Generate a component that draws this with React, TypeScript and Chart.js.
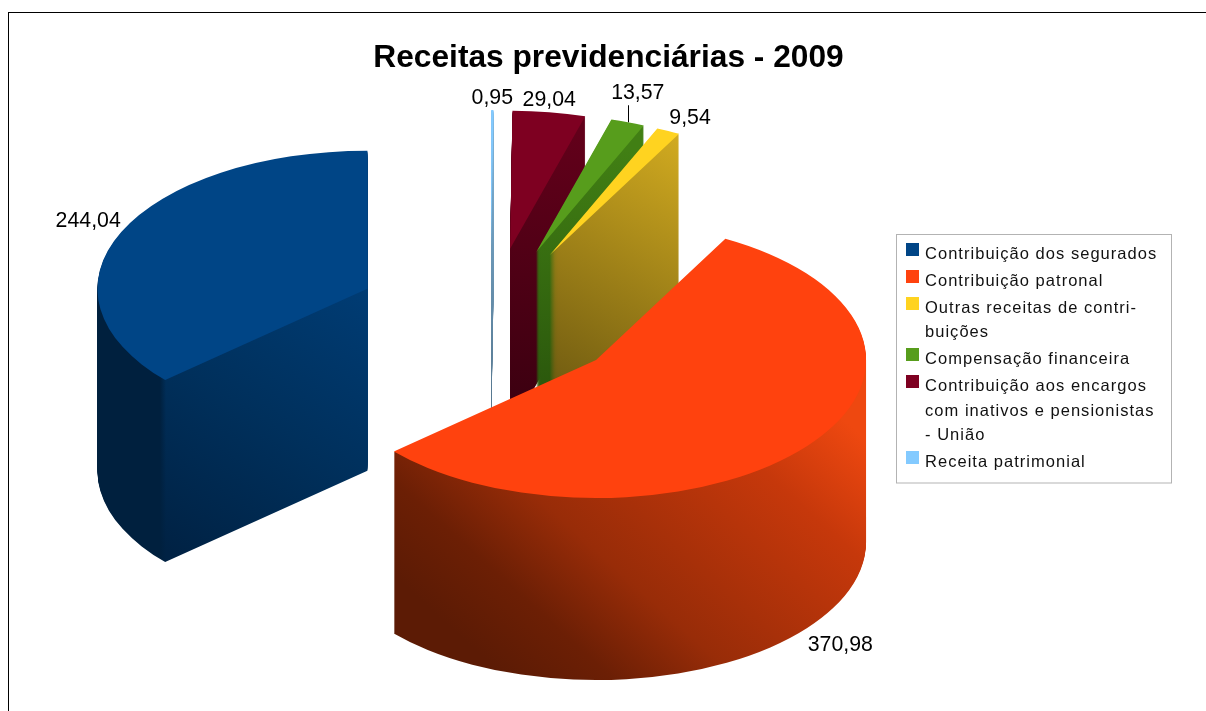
import React, { useEffect, useRef } from "react";
import { Chart, registerables } from "chart.js";

Chart.register(...registerables);

// ---- data (legend order) ----
const TITLE = "Receitas previdenciárias - 2009";
const CATEGORIES = [
  "Contribuição dos segurados",
  "Contribuição patronal",
  "Outras receitas de contribuições",
  "Compensação financeira",
  "Contribuição aos encargos com inativos e pensionistas - União",
  "Receita patrimonial",
];
const LEGEND_LINES = [
  ["Contribuição dos segurados"],
  ["Contribuição patronal"],
  ["Outras receitas de contri-", "buições"],
  ["Compensação financeira"],
  ["Contribuição aos encargos", "com inativos e pensionistas", "- União"],
  ["Receita patrimonial"],
];
const VALUES = [244.04, 370.98, 9.54, 13.57, 29.04, 0.95];
const COLORS = ["#004586", "#ff420e", "#ffd320", "#579d1c", "#7e0021", "#83caff"];

// ---- 3D view ----
const CENTER = { x: 490.5, y: 317 };
const RX = 270;
const RY = 138;
const EXPLODE = 0.5;
const DEPTH = 182;

type Shade = { from: [number, number]; to: [number, number]; stops: [number, string][] };
const WALLS: Shade[][] = [
  [
    { from: [367, 290], to: [190, 565], stops: [[0, "#003c74"], [0.5, "#00305c"], [1, "#002244"]] },
    { from: [160, 0], to: [166, 0], stops: [[0, "#00203e"], [1, "rgba(0,32,62,0)"]] },
  ],
  [{ from: [520, 690], to: [800, 380], stops: [[0, "#5c1b05"], [0.17, "#6c1f05"], [0.37, "#982c08"], [0.78, "#c6380b"], [1, "#ee4810"]] }],
  [{ from: [540, 400], to: [690, 140], stops: [[0, "#6b5710"], [1, "#d2ab20"]] }],
  [{ from: [540, 150], to: [540, 400], stops: [[0, "#417f14"], [1, "#2a560c"]] }],
  [{ from: [540, 130], to: [520, 420], stops: [[0, "#62001a"], [1, "#3a0010"]] }],
  [{ from: [491, 110], to: [491, 410], stops: [[0, "#7fb6dd"], [1, "#55758c"]] }],
];

const LABEL_FONT = '21.3px "Liberation Sans"';
const LABEL_PLACE: { align: CanvasTextAlign; dx: number; dy: number; leader?: number }[] = [
  { align: "right", dx: -0.5, dy: -5 },
  { align: "left", dx: 0.5, dy: 23 },
  { align: "left", dx: 1, dy: -7 },
  { align: "center", dx: 10, dy: -23, leader: 17 },
  { align: "center", dx: 0, dy: -6.5 },
  { align: "center", dx: 0, dy: -6 },
];

const LEGEND = {
  left: 896.5, top: 234.5, width: 275, height: 248.5,
  boxX: 906, boxSize: 13, textX: 925, firstY: 254.5, lineStep: 24.3, itemGap: 27,
  font: '16.5px "Liberation Sans"', spacing: "1.03px",
};

const n = VALUES.length;
const rev = <T,>(a: T[]) => [...a].reverse();

const scene = {
  id: "scene",
  beforeDraw(chart: any) {
    const { ctx } = chart;
    ctx.save();
    ctx.fillStyle = "#000";
    ctx.fillRect(8, 12, 1206, 1);
    ctx.fillRect(8, 12, 1, 711);
    ctx.restore();
  },
  beforeDatasetsDraw(chart: any) {
    const { ctx } = chart;
    const arcs = chart.getDatasetMeta(0).data;
    const off = document.createElement("canvas");
    off.width = chart.width;
    off.height = chart.height;
    const oc = off.getContext("2d")!;

    const placeArc = (c: CanvasRenderingContext2D, arc: any, shift: number) => {
      const mid = (arc.startAngle + arc.endAngle) / 2;
      const k = { x: RX / arc.outerRadius, y: RY / arc.outerRadius };
      c.save();
      c.translate(CENTER.x + EXPLODE * RX * Math.cos(mid), CENTER.y + EXPLODE * RY * Math.sin(mid) + shift);
      c.scale(k.x, k.y);
      c.translate(-arc.x, -arc.y);
      arc.draw(c);
      c.restore();
    };

    // datasets hold reversed order: dataset index 0 = last legend entry, painted back to front
    arcs.forEach((arc: any, di: number) => {
      const si = n - 1 - di;
      oc.globalCompositeOperation = "source-over";
      oc.clearRect(0, 0, off.width, off.height);
      for (let d = DEPTH; d > 0; d--) placeArc(oc, arc, d);
      oc.globalCompositeOperation = "source-atop";
      for (const s of WALLS[si]) {
        const g = oc.createLinearGradient(s.from[0], s.from[1], s.to[0], s.to[1]);
        s.stops.forEach(([p, col]) => g.addColorStop(p, col));
        oc.fillStyle = g;
        oc.fillRect(0, 0, off.width, off.height);
      }
      ctx.drawImage(off, 0, 0);
      placeArc(ctx, arc, 0);
    });

    // value labels
    ctx.save();
    ctx.font = LABEL_FONT;
    ctx.fillStyle = "#000";
    ctx.textBaseline = "alphabetic";
    arcs.forEach((arc: any, di: number) => {
      const si = n - 1 - di;
      const mid = (arc.startAngle + arc.endAngle) / 2;
      const cx = CENTER.x + EXPLODE * RX * Math.cos(mid);
      const cy = CENTER.y + EXPLODE * RY * Math.sin(mid);
      const ax = cx + RX * Math.cos(mid);
      const ay = cy + RY * Math.sin(mid) + (Math.sin(mid) > 0 ? DEPTH : 0);
      const p = LABEL_PLACE[si];
      if (p.leader) {
        ctx.fillRect(Math.round(ax), ay - p.leader, 1, p.leader);
      }
      ctx.textAlign = p.align;
      ctx.fillText(VALUES[si].toFixed(2).replace(".", ","), ax + p.dx, ay + p.dy);
    });
    ctx.restore();

    // legend
    const L = LEGEND;
    ctx.save();
    ctx.strokeStyle = "#b3b3b3";
    ctx.lineWidth = 1;
    ctx.strokeRect(L.left, L.top, L.width, L.height);
    ctx.font = L.font;
    (ctx as any).letterSpacing = L.spacing;
    ctx.textAlign = "left";
    ctx.textBaseline = "middle";
    let y = L.firstY;
    LEGEND_LINES.forEach((lines, i) => {
      ctx.fillStyle = COLORS[i];
      ctx.fillRect(L.boxX, Math.round(y - 11.5), L.boxSize, L.boxSize);
      ctx.fillStyle = "#111";
      lines.forEach((t, j) => ctx.fillText(t, L.textX, y + j * L.lineStep));
      y += (lines.length - 1) * L.lineStep + L.itemGap;
    });
    ctx.restore();
    return false;
  },
};

export default function App() {
  const ref = useRef<HTMLCanvasElement>(null);
  useEffect(() => {
    document.body.style.margin = "0";
    const chart = new Chart(ref.current!, {
      type: "pie",
      data: {
        labels: rev(CATEGORIES),
        datasets: [{ data: rev(VALUES), backgroundColor: rev(COLORS), borderWidth: 0 }],
      },
      options: {
        responsive: false,
        animation: false,
        rotation: 0,
        layout: { padding: { left: 11, right: 0, top: 0, bottom: 0 } },
        plugins: {
          legend: { display: false },
          tooltip: { enabled: false },
          title: {
            display: true,
            text: TITLE,
            color: "#000",
            font: { family: "Liberation Sans", size: 31.7, weight: "bold" },
            padding: { top: 39, bottom: 10 },
          },
        },
      },
      plugins: [scene],
    } as any);
    return () => chart.destroy();
  }, []);
  return <canvas ref={ref} width={1206} height={711} style={{ display: "block" }} />;
}
